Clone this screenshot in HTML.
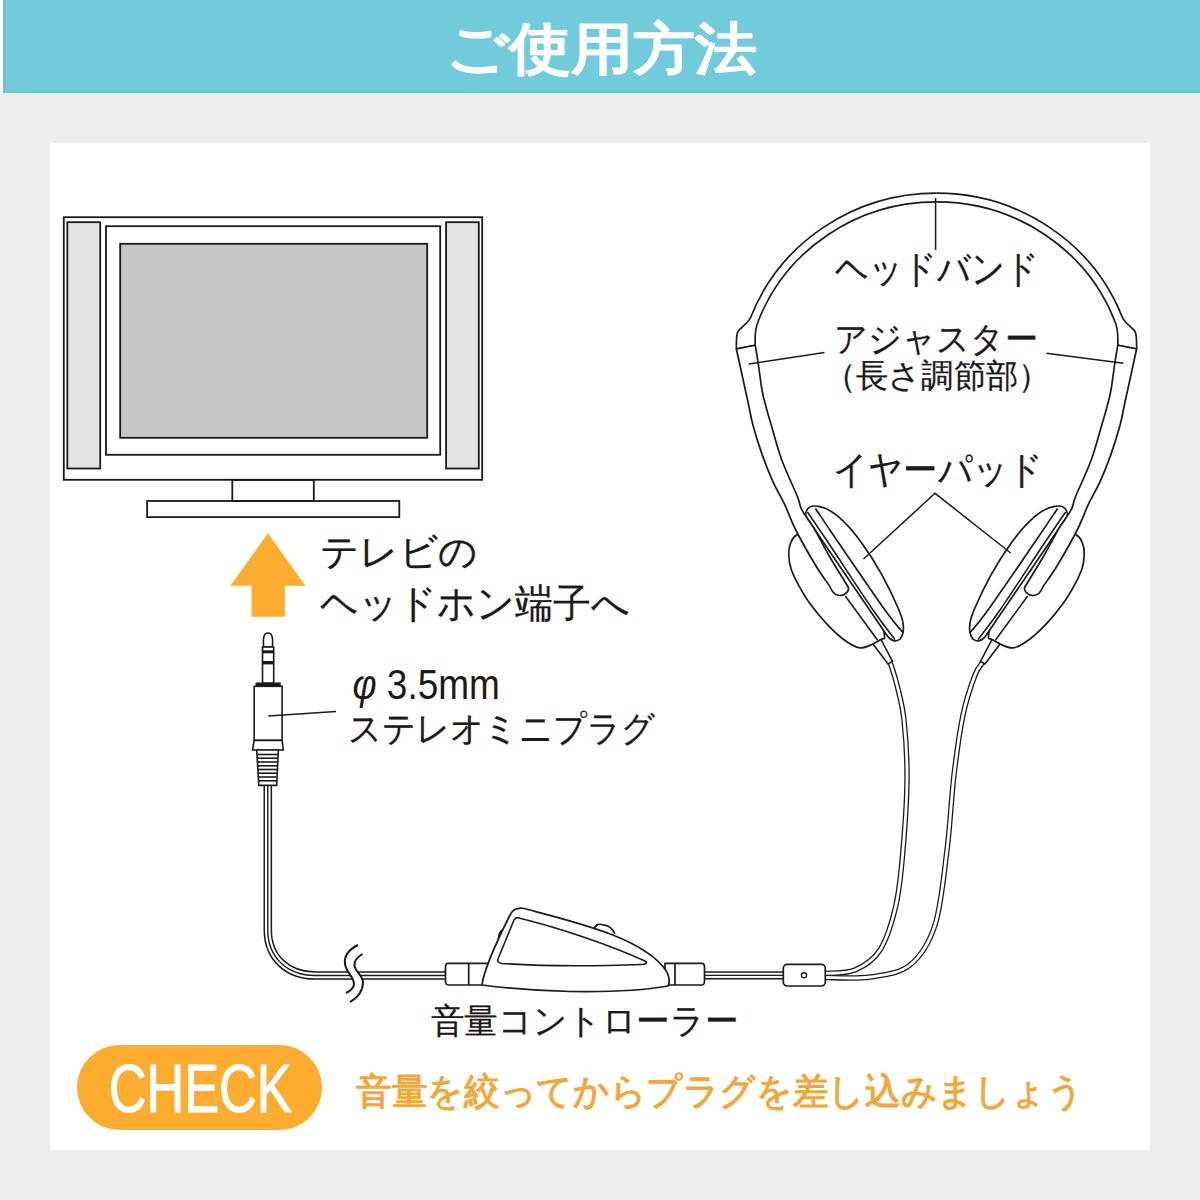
<!DOCTYPE html>
<html><head><meta charset="utf-8"><style>
html,body{margin:0;padding:0;width:1200px;height:1200px;overflow:hidden;background:#ededed}
.a{position:absolute}
</style></head><body>
<div class="a" style="left:0;top:0;width:3px;height:93px;background:#f4ffff"></div>
<div class="a" style="left:3px;top:0;width:1197px;height:93px;background:#71cbdb"></div>
<div class="a" style="left:3px;top:0;width:3px;height:93px;background:#80bec6"></div>
<div class="a" style="left:3px;top:91px;width:1197px;height:2px;background:#80bec6"></div>
<div class="a" style="left:0;top:93px;width:1200px;height:2px;background:#dcf1f2"></div>
<div class="a" style="left:50px;top:143px;width:1100px;height:1007px;background:#fff"></div>
<div class="a" style="left:77.3px;top:1045px;width:244.4px;height:85px;border-radius:42.5px;background:#fcad2f"></div>

<svg width="1200" height="1200" viewBox="0 0 1200 1200" style="position:absolute;left:0;top:0">
<g fill="none" stroke="#1c1a19" stroke-width="1.8">
<rect x="63.8" y="217.2" width="418.4" height="262.6" fill="#fff"/>
<rect x="67.3" y="222.2" width="32.9" height="246.3" fill="#e3e3e3"/>
<rect x="446.1" y="222.2" width="32.7" height="246.3" fill="#e3e3e3"/>
<rect x="106" y="226.2" width="334.2" height="228.6" fill="#fff"/>
<rect x="120.2" y="243.8" width="307" height="194" fill="#c6c6c6"/>
<rect x="232.3" y="480" width="81.5" height="21"/>
<rect x="147.1" y="501" width="252.2" height="16.1"/>
</g>
<polygon points="267.9,533.3 305.4,585.8 284.8,585.8 284.8,616.7 251.5,616.7 251.5,585.8 230.4,585.8" fill="#fcad2f"/>
<path d="M267.8,780 L267.8,930 C267.8,958 288,975.5 315,975.5 L450,975.5" fill="none" stroke="#1c1a19" stroke-width="8.6"/>
<path d="M267.8,780 L267.8,930 C267.8,958 288,975.5 315,975.5 L450,975.5" fill="none" stroke="#fff" stroke-width="5.6"/>
<path d="M267.8,780 L267.8,930 C267.8,958 288,975.5 315,975.5 L450,975.5" fill="none" stroke="#1c1a19" stroke-width="1.4"/>
<path d="M357.9,945 C348,950 344,957 345,964 C346,972 354,977 354,984 C354,988 350,991 346,993 L350,1002 C357,998 363,991 363,982 C363,976 355,972 354.5,965 C354,961 356,958 362.4,954 Z" fill="#fff" stroke="none"/>
<path d="M357.9,945 C348,950 344,957 345,964 C346,972 354,977 354,984 C354,988 350,991 346,993" fill="none" stroke="#1c1a19" stroke-width="2"/>
<path d="M362.4,954 C356,958 354,961 354.5,965 C355,972 363,976 363,982 C363,991 357,998 350,1002" fill="none" stroke="#1c1a19" stroke-width="2"/>
<g stroke="#1c1a19" stroke-width="1.6">
<path d="M263.6,647 C263,638 263.5,633 268,633 C272.5,633 273,638 272.4,647 Z" fill="#fff"/>
<rect x="262.5" y="647" width="11.2" height="36.3" fill="#fff"/>
<rect x="262.5" y="650.3" width="11.2" height="3" fill="#1c1a19" stroke="none"/>
<rect x="262.5" y="661" width="11.2" height="3.4" fill="#1c1a19" stroke="none"/>
<rect x="256.3" y="683.3" width="23.7" height="2.6" fill="#1c1a19"/>
<rect x="254.2" y="686.3" width="27.9" height="54.1" fill="#fff"/>
<polygon points="254.2,740.4 282.1,740.4 283.3,750 252.5,750" fill="#fff"/>
<polygon points="256.7,750 278.3,750 276.7,785.4 258.8,785.4" fill="#fff"/>
<line x1="257.2" y1="754.5" x2="277.8" y2="754.5"/>
<line x1="257.4" y1="758.2" x2="277.6" y2="758.2"/>
<line x1="257.6" y1="762.0" x2="277.4" y2="762.0"/>
<line x1="257.8" y1="765.8" x2="277.2" y2="765.8"/>
<line x1="258.0" y1="769.5" x2="277.0" y2="769.5"/>
<line x1="258.2" y1="773.2" x2="276.8" y2="773.2"/>
<line x1="258.4" y1="777.0" x2="276.6" y2="777.0"/>
<line x1="258.6" y1="780.8" x2="276.4" y2="780.8"/>
</g>
<line x1="268.3" y1="716" x2="336" y2="711.6" stroke="#1c1a19" stroke-width="1.5"/>
<path d="M825.0,973.5 C830.0,972.9 845.8,973.9 855.0,970.0 C864.2,966.1 873.2,960.8 880.0,950.0 C886.8,939.2 892.2,921.7 896.0,905.0 C899.8,888.3 901.2,870.8 903.0,850.0 C904.8,829.2 906.8,801.7 907.0,780.0 C907.2,758.3 905.7,735.8 904.0,720.0 C902.3,704.2 899.3,694.7 897.0,685.0 C894.7,675.3 891.2,665.8 890.0,662.0" fill="none" stroke="#1c1a19" stroke-width="5.4"/>
<path d="M825.0,973.5 C830.0,972.9 845.8,973.9 855.0,970.0 C864.2,966.1 873.2,960.8 880.0,950.0 C886.8,939.2 892.2,921.7 896.0,905.0 C899.8,888.3 901.2,870.8 903.0,850.0 C904.8,829.2 906.8,801.7 907.0,780.0 C907.2,758.3 905.7,735.8 904.0,720.0 C902.3,704.2 899.3,694.7 897.0,685.0 C894.7,675.3 891.2,665.8 890.0,662.0" fill="none" stroke="#fff" stroke-width="2.8"/>
<path d="M825.0,977.5 C832.5,977.4 855.8,979.1 870.0,977.0 C884.2,974.9 899.2,973.7 910.0,965.0 C920.8,956.3 928.8,944.2 935.0,925.0 C941.2,905.8 943.8,875.0 947.0,850.0 C950.2,825.0 951.3,797.5 954.0,775.0 C956.7,752.5 959.5,731.7 963.0,715.0 C966.5,698.3 971.7,683.8 975.0,675.0 C978.3,666.2 981.7,664.2 983.0,662.0" fill="none" stroke="#1c1a19" stroke-width="5.4"/>
<path d="M825.0,977.5 C832.5,977.4 855.8,979.1 870.0,977.0 C884.2,974.9 899.2,973.7 910.0,965.0 C920.8,956.3 928.8,944.2 935.0,925.0 C941.2,905.8 943.8,875.0 947.0,850.0 C950.2,825.0 951.3,797.5 954.0,775.0 C956.7,752.5 959.5,731.7 963.0,715.0 C966.5,698.3 971.7,683.8 975.0,675.0 C978.3,666.2 981.7,664.2 983.0,662.0" fill="none" stroke="#fff" stroke-width="2.8"/>
<path d="M700,975.3 L790,975.3" fill="none" stroke="#1c1a19" stroke-width="8.2"/>
<path d="M700,975.3 L790,975.3" fill="none" stroke="#fff" stroke-width="5.2"/>
<path d="M700,975.3 L790,975.3" fill="none" stroke="#1c1a19" stroke-width="1.3"/>
<rect x="783.3" y="964.4" width="42" height="21.6" rx="4" fill="#fff" stroke="#1c1a19" stroke-width="1.7"/>
<circle cx="804" cy="975.3" r="2.6" fill="#fff" stroke="#1c1a19" stroke-width="1.4"/>
<g stroke="#1c1a19" stroke-width="1.7" fill="#fff">
<path d="M448,963.4 L488,963.4 L488,985 L448,985 C445,985 445.5,982 445.5,974 C445.5,966 445,963.4 448,963.4 Z"/>
<path d="M702,963.4 L665,963.4 L665,985 L702,985 C705,985 704.5,982 704.5,974 C704.5,966 705,963.4 702,963.4 Z"/>
<line x1="468.7" y1="963.4" x2="468.7" y2="985"/>
<line x1="675" y1="963.4" x2="675" y2="985"/>
<path d="M594.5,928.4 C595.5,924.5 599,923.5 603,924.8 C607,925 612,927 614.8,934" />
<path d="M503.5,929.5 C499.5,931 497,937 499.5,943.5" />
<path d="M482,985 C484,968 500,935 510,915 C513,909 518,907.5 524,908.5 C575,922 645,938 667,972 C670,979 669,984 668,986 C640,991 600,992 570,991.5 C540,991 505,988 482,985 Z"/>
<path d="M518,917.7 C560,928 610,945 645,961 C648,963 646,964.5 642,964.5 C600,966 540,966 502,963.5 C498,963 497,961 498,959 L514,920 C515,918 516.5,917.5 518,917.7 Z" stroke-width="1.6"/>
</g>
<g><path d="M936.5,193.2 A199,193 0 0 0 750.8,317 C748.5,323 741,327 738,331.5 C736.3,334 736.2,338 736.4,349" fill="none" stroke="#1c1a19" stroke-width="1.7"/>
<path d="M936.5,201.9 A190.5,184.3 0 0 0 758.1,321.5 C756,326 754.7,332 755.2,345.25" fill="none" stroke="#1c1a19" stroke-width="1.7"/>
<path d="M736.4,349 L755.2,345.25" fill="none" stroke="#1c1a19" stroke-width="1.7"/>
<path d="M797.5,534.6 C792.2,537.3 792.0,539.9 790.5,543.3 C789.0,546.7 788.6,550.7 788.8,555.0 C788.9,559.3 789.4,564.0 791.1,569.0 C792.8,574.0 795.5,579.5 798.7,585.3 C801.9,591.1 805.6,597.6 810.3,604.0 C815.0,610.4 821.2,618.1 826.7,623.9 C832.2,629.7 837.6,635.0 843.0,639.0 C848.4,643.0 854.3,647.0 859.3,647.8 C864.3,648.6 869.4,645.4 873.0,644.0 C876.6,642.6 879.1,640.8 881.0,639.5 C882.9,638.2 885.0,640.2 884.5,636.0 C884.0,631.8 883.8,626.3 878.0,614.0 C872.2,601.7 859.3,576.5 850.0,562.0 C840.7,547.5 830.8,531.6 822.0,527.0 C813.2,522.4 802.8,531.9 797.5,534.6Z" fill="#fff" stroke="#1c1a19" stroke-width="1.7"/>
<path d="M805.7,516 C805,510 809,506 814,506 C816,506 817,506.3 818.3,506.4 C845,510 880,565 899,610 C904,622 905,633 900,639 C897,642 891,642 886,634 L830,552 Z" fill="#fff" stroke="#1c1a19" stroke-width="1.7"/>
<path d="M807.4,512.0 C811.2,517.5 819.1,529.0 830.0,545.3 C840.9,561.6 862.2,594.3 873.0,610.0 C883.8,625.7 891.3,634.6 895.0,639.5" fill="none" stroke="#1c1a19" stroke-width="1.6"/>
<path d="M815.4,508.4 C819.0,513.7 825.1,523.1 836.7,540.0 C848.3,556.9 874.0,594.7 885.0,610.0 C896.0,625.3 899.6,628.3 902.5,632.0" fill="none" stroke="#1c1a19" stroke-width="1.7"/>
<path d="M845.3,596 L877.5,640" fill="none" stroke="#1c1a19" stroke-width="1.6"/>
<path d="M736.4,349.0 C737.1,352.1 738.6,358.9 740.5,367.8 C742.4,376.6 745.9,392.5 748.0,402.0 C750.1,411.5 750.5,416.1 752.9,425.0 C755.3,433.9 759.1,446.1 762.5,455.6 C765.9,465.1 769.4,473.9 773.0,481.9 C776.6,489.9 780.6,495.7 784.4,503.8 C788.2,511.8 790.6,519.8 795.8,530.0 C800.9,540.2 809.7,555.5 815.4,565.0 C821.1,574.5 827.6,583.1 830.0,586.7 C832,592 836,595.5 840,595.5 C845,595.5 850,591 848,586.7 L848.0,586.7 C845.0,581.8 835.5,566.8 830.0,557.3 C824.5,547.8 818.7,536.3 815.0,530.0 C811.3,523.7 810.3,523.1 808.0,519.5 C805.7,515.9 802.8,511.9 801.0,508.1 C799.2,504.3 800.7,504.8 797.5,496.8 C794.3,488.7 786.1,472.0 781.8,460.0 C777.4,448.0 773.9,433.9 771.2,425.0 C768.6,416.1 767.5,412.6 766.0,406.8 C764.5,400.9 763.3,397.4 762.0,390.0 C760.7,382.6 759.2,370.0 758.1,362.5 C757.0,355.0 755.7,348.1 755.2,345.2 Z" fill="#fff" stroke="#1c1a19" stroke-width="1.7"/>
<path d="M873,644 L888,664 L892.5,661.5 L881,639.5 Z" fill="#fff" stroke="#1c1a19" stroke-width="1.6"/></g>
<g transform="translate(1873,0) scale(-1,1)"><path d="M936.5,193.2 A199,193 0 0 0 750.8,317 C748.5,323 741,327 738,331.5 C736.3,334 736.2,338 736.4,349" fill="none" stroke="#1c1a19" stroke-width="1.7"/>
<path d="M936.5,201.9 A190.5,184.3 0 0 0 758.1,321.5 C756,326 754.7,332 755.2,345.25" fill="none" stroke="#1c1a19" stroke-width="1.7"/>
<path d="M736.4,349 L755.2,345.25" fill="none" stroke="#1c1a19" stroke-width="1.7"/>
<path d="M797.5,534.6 C792.2,537.3 792.0,539.9 790.5,543.3 C789.0,546.7 788.6,550.7 788.8,555.0 C788.9,559.3 789.4,564.0 791.1,569.0 C792.8,574.0 795.5,579.5 798.7,585.3 C801.9,591.1 805.6,597.6 810.3,604.0 C815.0,610.4 821.2,618.1 826.7,623.9 C832.2,629.7 837.6,635.0 843.0,639.0 C848.4,643.0 854.3,647.0 859.3,647.8 C864.3,648.6 869.4,645.4 873.0,644.0 C876.6,642.6 879.1,640.8 881.0,639.5 C882.9,638.2 885.0,640.2 884.5,636.0 C884.0,631.8 883.8,626.3 878.0,614.0 C872.2,601.7 859.3,576.5 850.0,562.0 C840.7,547.5 830.8,531.6 822.0,527.0 C813.2,522.4 802.8,531.9 797.5,534.6Z" fill="#fff" stroke="#1c1a19" stroke-width="1.7"/>
<path d="M805.7,516 C805,510 809,506 814,506 C816,506 817,506.3 818.3,506.4 C845,510 880,565 899,610 C904,622 905,633 900,639 C897,642 891,642 886,634 L830,552 Z" fill="#fff" stroke="#1c1a19" stroke-width="1.7"/>
<path d="M807.4,512.0 C811.2,517.5 819.1,529.0 830.0,545.3 C840.9,561.6 862.2,594.3 873.0,610.0 C883.8,625.7 891.3,634.6 895.0,639.5" fill="none" stroke="#1c1a19" stroke-width="1.6"/>
<path d="M815.4,508.4 C819.0,513.7 825.1,523.1 836.7,540.0 C848.3,556.9 874.0,594.7 885.0,610.0 C896.0,625.3 899.6,628.3 902.5,632.0" fill="none" stroke="#1c1a19" stroke-width="1.7"/>
<path d="M845.3,596 L877.5,640" fill="none" stroke="#1c1a19" stroke-width="1.6"/>
<path d="M736.4,349.0 C737.1,352.1 738.6,358.9 740.5,367.8 C742.4,376.6 745.9,392.5 748.0,402.0 C750.1,411.5 750.5,416.1 752.9,425.0 C755.3,433.9 759.1,446.1 762.5,455.6 C765.9,465.1 769.4,473.9 773.0,481.9 C776.6,489.9 780.6,495.7 784.4,503.8 C788.2,511.8 790.6,519.8 795.8,530.0 C800.9,540.2 809.7,555.5 815.4,565.0 C821.1,574.5 827.6,583.1 830.0,586.7 C832,592 836,595.5 840,595.5 C845,595.5 850,591 848,586.7 L848.0,586.7 C845.0,581.8 835.5,566.8 830.0,557.3 C824.5,547.8 818.7,536.3 815.0,530.0 C811.3,523.7 810.3,523.1 808.0,519.5 C805.7,515.9 802.8,511.9 801.0,508.1 C799.2,504.3 800.7,504.8 797.5,496.8 C794.3,488.7 786.1,472.0 781.8,460.0 C777.4,448.0 773.9,433.9 771.2,425.0 C768.6,416.1 767.5,412.6 766.0,406.8 C764.5,400.9 763.3,397.4 762.0,390.0 C760.7,382.6 759.2,370.0 758.1,362.5 C757.0,355.0 755.7,348.1 755.2,345.2 Z" fill="#fff" stroke="#1c1a19" stroke-width="1.7"/>
<path d="M873,644 L888,664 L892.5,661.5 L881,639.5 Z" fill="#fff" stroke="#1c1a19" stroke-width="1.6"/></g>
<g stroke="#1c1a19" stroke-width="1.5" fill="none">
<line x1="935.6" y1="198" x2="935.6" y2="250"/>
<line x1="748.7" y1="364" x2="824.5" y2="352.6"/>
<line x1="1046.4" y1="353.3" x2="1123.4" y2="363.2"/>
<polyline points="863.5,559 935,493.3 1010.7,553"/>
</g>
<text x="446.10" y="67.76" textLength="311.05" lengthAdjust="spacingAndGlyphs" style="font-family:'Liberation Sans',sans-serif;font-size:55.94px;font-weight:normal" fill="#fff" stroke="#fff" stroke-width="2.40" stroke-linejoin="round">ご使用方法</text>
<text x="319.84" y="565.37" textLength="158.00" lengthAdjust="spacingAndGlyphs" style="font-family:'Liberation Sans',sans-serif;font-size:37.69px;font-weight:normal" fill="#1c1a19" stroke="#1c1a19" stroke-width="0.25" stroke-linejoin="round">テレビの</text>
<text x="320.38" y="616.56" textLength="309.74" lengthAdjust="spacingAndGlyphs" style="font-family:'Liberation Sans',sans-serif;font-size:40.35px;font-weight:normal" fill="#1c1a19" stroke="#1c1a19" stroke-width="0.25" stroke-linejoin="round">ヘッドホン端子へ</text>
<text x="352.46" y="698.72" textLength="147.39" lengthAdjust="spacingAndGlyphs" style="font-family:'Liberation Sans',sans-serif;font-size:41.94px;font-weight:normal" fill="#1c1a19" stroke="#1c1a19" stroke-width="0.00" stroke-linejoin="round"><tspan style="font-style:italic">φ</tspan> 3.5mm</text>
<text x="347.70" y="741.10" textLength="307.72" lengthAdjust="spacingAndGlyphs" style="font-family:'Liberation Sans',sans-serif;font-size:35.65px;font-weight:normal" fill="#1c1a19" stroke="#1c1a19" stroke-width="0.25" stroke-linejoin="round">ステレオミニプラグ</text>
<text x="834.78" y="282.46" textLength="204.11" lengthAdjust="spacingAndGlyphs" style="font-family:'Liberation Sans',sans-serif;font-size:39.03px;font-weight:normal" fill="#1c1a19" stroke="#1c1a19" stroke-width="0.25" stroke-linejoin="round">ヘッドバンド</text>
<text x="834.28" y="351.01" textLength="203.35" lengthAdjust="spacingAndGlyphs" style="font-family:'Liberation Sans',sans-serif;font-size:35.36px;font-weight:normal" fill="#1c1a19" stroke="#1c1a19" stroke-width="0.25" stroke-linejoin="round">アジャスター</text>
<text x="823.90" y="387.30" textLength="226.23" lengthAdjust="spacingAndGlyphs" style="font-family:'Liberation Sans',sans-serif;font-size:33.22px;font-weight:normal" fill="#1c1a19" stroke="#1c1a19" stroke-width="0.25" stroke-linejoin="round">（長さ調節部）</text>
<text x="833.04" y="483.28" textLength="209.88" lengthAdjust="spacingAndGlyphs" style="font-family:'Liberation Sans',sans-serif;font-size:39.01px;font-weight:normal" fill="#1c1a19" stroke="#1c1a19" stroke-width="0.25" stroke-linejoin="round">イヤーパッド</text>
<text x="430.76" y="1033.01" textLength="307.64" lengthAdjust="spacingAndGlyphs" style="font-family:'Liberation Sans',sans-serif;font-size:35.00px;font-weight:normal" fill="#1c1a19" stroke="#1c1a19" stroke-width="0.25" stroke-linejoin="round">音量コントローラー</text>
<text x="356.16" y="1104.32" textLength="727.48" lengthAdjust="spacingAndGlyphs" style="font-family:'Liberation Sans',sans-serif;font-size:36.98px;font-weight:bold" fill="#f0a83a" stroke="#f0a83a" stroke-width="0.00" stroke-linejoin="round">音量を絞ってからプラグを差し込みましょう</text>
<text x="108.74" y="1111.86" textLength="183.01" lengthAdjust="spacingAndGlyphs" style="font-family:'Liberation Sans',sans-serif;font-size:68.33px;font-weight:normal" fill="#fff" stroke="#fff" stroke-width="1.20" stroke-linejoin="round">CHECK</text>
</svg>
</body></html>
